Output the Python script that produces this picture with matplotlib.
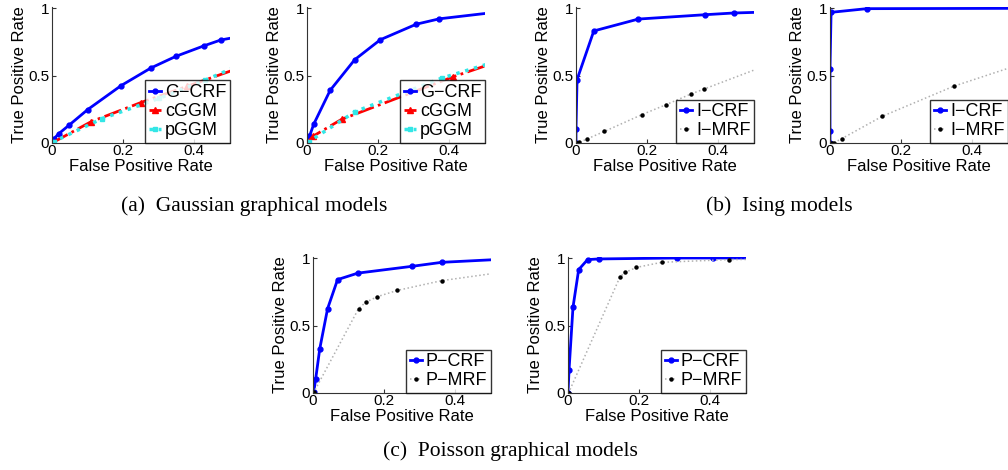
import matplotlib
matplotlib.use("Agg")
import matplotlib.pyplot as plt

plt.rcParams['font.family'] = ['Liberation Sans', 'DejaVu Sans']

# ---- data (FPR, TPR) ----
# (a) Gaussian graphical models
g1_crf_x = [0, 0.005, 0.019, 0.047, 0.10, 0.194, 0.278, 0.348, 0.427, 0.474, 0.55]
g1_crf_y = [0, 0.03, 0.069, 0.13, 0.247, 0.425, 0.556, 0.642, 0.72, 0.763, 0.80]
g1_cggm_x = [0, 0.11, 0.25, 0.38, 0.6]
g1_cggm_y = [0, 0.158, 0.30, 0.42, 0.625]
g1_pggm_x = [0, 0.005, 0.14, 0.30, 0.43, 0.6]
g1_pggm_y = [0, 0.01, 0.18, 0.33, 0.465, 0.66]

g2_crf_x = [0, 0.007, 0.019, 0.065, 0.134, 0.206, 0.307, 0.372, 0.6]
g2_crf_y = [0, 0.05, 0.14, 0.39, 0.617, 0.765, 0.88, 0.92, 0.99]
g2_cggm_x = [0, 0.018, 0.097, 0.41, 0.6]
g2_cggm_y = [0, 0.052, 0.175, 0.49, 0.66]
g2_pggm_x = [0, 0.005, 0.135, 0.378, 0.6]
g2_pggm_y = [0, 0.01, 0.232, 0.48, 0.66]

# (b) Ising models
i1_crf_x = [0, 0, 0.003, 0.05, 0.175, 0.361, 0.443, 0.6]
i1_crf_y = [0, 0.104, 0.47, 0.83, 0.918, 0.95, 0.963, 0.975]
i1_mrf_x = [0, 0.004, 0.009, 0.031, 0.08, 0.185, 0.253, 0.323, 0.36, 0.6]
i1_mrf_y = [0, 0.002, 0.005, 0.03, 0.086, 0.21, 0.284, 0.363, 0.40, 0.64]

i2_crf_x = [0, 0, 0, 0.003, 0.103, 0.6]
i2_crf_y = [0, 0.086, 0.55, 0.968, 0.995, 0.998]
i2_mrf_x = [0, 0.005, 0.012, 0.033, 0.147, 0.347, 0.6]
i2_mrf_y = [0, 0.001, 0.003, 0.032, 0.198, 0.42, 0.64]

# (c) Poisson graphical models
p1_crf_x = [0, 0.002, 0.0075, 0.019, 0.041, 0.069, 0.126, 0.277, 0.362, 0.6]
p1_crf_y = [0, 0.005, 0.104, 0.328, 0.625, 0.84, 0.888, 0.938, 0.968, 1.0]
p1_mrf_x = [0, 0.002, 0.128, 0.148, 0.181, 0.237, 0.361, 0.6]
p1_mrf_y = [0, 0.004, 0.625, 0.672, 0.714, 0.76, 0.832, 0.92]

p2_crf_x = [0, 0.003, 0.014, 0.03, 0.055, 0.086, 0.305, 0.406, 0.6]
p2_crf_y = [0, 0.173, 0.635, 0.914, 0.988, 0.993, 1.0, 1.0, 1.0]
p2_mrf_x = [0, 0.002, 0.146, 0.161, 0.192, 0.263, 0.451, 0.6]
p2_mrf_y = [0, 0.003, 0.86, 0.894, 0.93, 0.968, 0.988, 0.992]

W, H = 1008, 470
fig = plt.figure(figsize=(W / 100, H / 100), dpi=100)


def make_ax(left, top, width=178, height=135):
    # pixel box -> figure fraction (y=1 sits at `top`)
    h = height * 1.01
    ax = fig.add_axes([left / W, (H - top - height) / H, width / W, h / H])
    ax.set_xlim(0, 0.5)
    ax.set_ylim(0, 1.01)
    ax.set_xticks([0, 0.2, 0.4])
    ax.set_xticklabels(['0', '0.2', '0.4'])
    ax.set_yticks([0, 0.5, 1])
    ax.set_yticklabels(['0', '0.5', '1'])
    for s in ('top', 'right'):
        ax.spines[s].set_visible(False)
    for s in ('left', 'bottom'):
        ax.spines[s].set_linewidth(0.8)
        ax.spines[s].set_color('#333333')
    ax.tick_params(direction='in', length=3, labelsize=11, pad=2, colors='#333333',
                   labelcolor='black')
    ax.tick_params(axis='x', pad=1)
    ax.set_ylabel('True Positive Rate', fontsize=12, labelpad=1)
    ax.set_xlabel('False Positive Rate', fontsize=12)
    ax.xaxis.set_label_coords(0.5, -0.115)
    ax.xaxis.label.set_va('top')
    return ax


def crf(ax, x, y, label):
    ax.plot(x, y, '-', color='#0000ff', lw=2, marker='o', ms=3.5, label=label)


def mrf(ax, x, y, label):
    ax.plot(x, y, ':', color='#b0b0b0', lw=1.1, marker='o', ms=2.2,
            mfc='black', mec='black', label=label)


def legend(ax):
    leg = ax.legend(loc='lower right', fontsize=13, frameon=True, fancybox=False,
                    borderaxespad=0, borderpad=0.2, labelspacing=0.12,
                    handlelength=0.7, handletextpad=0.2)
    leg.get_frame().set_edgecolor('black')
    leg.get_frame().set_linewidth(1)
    return leg


minus = '\u2212'

# --- Gaussian ---
for left, d in [(52, (g1_crf_x, g1_crf_y, g1_cggm_x, g1_cggm_y, g1_pggm_x, g1_pggm_y)),
                (307, (g2_crf_x, g2_crf_y, g2_cggm_x, g2_cggm_y, g2_pggm_x, g2_pggm_y))]:
    ax = make_ax(left, 8)
    crf(ax, d[0], d[1], 'G' + minus + 'CRF')
    ax.plot(d[2], d[3], '-.', color='#ff0000', lw=2, marker='^', ms=5, label='cGGM')
    ax.plot(d[4], d[5], ':', color='#33e6e6', lw=2.5, marker='s', ms=3.5, label='pGGM')
    legend(ax)

# --- Ising ---
for left, d in [(576, (i1_crf_x, i1_crf_y, i1_mrf_x, i1_mrf_y)),
                (830, (i2_crf_x, i2_crf_y, i2_mrf_x, i2_mrf_y))]:
    ax = make_ax(left, 8)
    crf(ax, d[0], d[1], 'I' + minus + 'CRF')
    mrf(ax, d[2], d[3], 'I' + minus + 'MRF')
    legend(ax)

# --- Poisson ---
for left, d in [(313, (p1_crf_x, p1_crf_y, p1_mrf_x, p1_mrf_y)),
                (568, (p2_crf_x, p2_crf_y, p2_mrf_x, p2_mrf_y))]:
    ax = make_ax(left, 258)
    crf(ax, d[0], d[1], 'P' + minus + 'CRF')
    mrf(ax, d[2], d[3], 'P' + minus + 'MRF')
    legend(ax)

cap = dict(family=['Liberation Serif', 'DejaVu Serif'], fontsize=15.5,
           ha='center', va='center')
fig.text(254 / W, 1 - 206 / H, '(a)  Gaussian graphical models', **cap)
fig.text(779 / W, 1 - 206 / H, '(b)  Ising models', **cap)
fig.text(510 / W, 1 - 451 / H, '(c)  Poisson graphical models', **cap)

fig.savefig('out.png', dpi=100)
